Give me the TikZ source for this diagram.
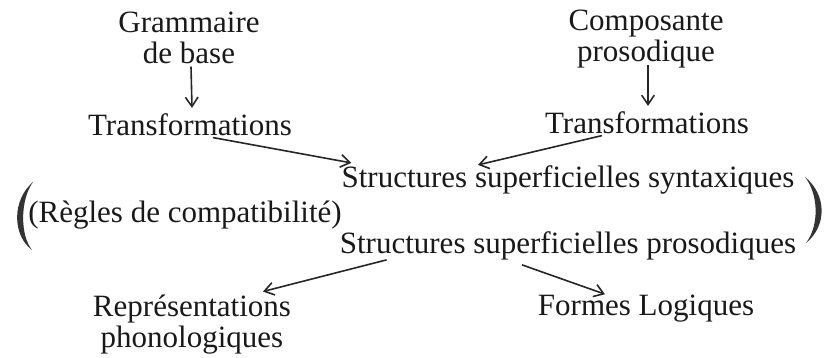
\documentclass[tikz,border=0pt]{standalone}
\usepackage{fontspec}
\setmainfont{Liberation Serif}
\usetikzlibrary{calc,positioning,arrows.meta}
\tikzset{
    lbl/.style={inner sep=3.75pt, align=center, text=black!90, font=\fontsize{23.25}{23}\selectfont},
    arr/.style={-{Straight Barb[length=7pt,width=9.5pt]}, line width=1.2pt, draw=black!85},
    paren/.style={fill=black!80, draw=none}
}

\begin{document}
\begin{tikzpicture}[x=0.75pt,y=0.75pt,yscale=-1,xscale=1]
\useasboundingbox (0,0) rectangle (827,357);
%Text
\node[lbl, anchor=base] (gram) at (189,63) {Grammaire\\de base};
\node[lbl, anchor=base] (comp) at (646,61) {Composante\\prosodique};
\node[lbl, anchor=base] (tleft) at (190,135) {Transformations};
\node[lbl, anchor=base] (tright) at (647,133) {Transformations};
\node[lbl, anchor=base] (synt) at (568,187) {Structures superficielles syntaxiques};
\node[lbl, anchor=base] (regles) at (185,222) {(Règles de compatibilité)};
\node[lbl, anchor=base] (pros) at (568,253) {Structures superficielles prosodiques};
\node[lbl, anchor=base] (repr) at (192,347) {Représentations\\phonologiques};
\node[lbl, anchor=base] (formes) at (646,315) {Formes Logiques};
%Straight Lines
\draw[arr] ($(gram.south)+(2,-2)$) -- ($(tleft.north)+(2,0)$);
\draw[arr] ($(comp.south)+(2,-8)$) -- ($(tright.north)+(1,0)$);
\draw[arr] ($(tleft.south)+(23,-3)$) -- ($(synt.north west)+(15,3)$);
\draw[arr] ($(tright.south)+(-45,-3)$) -- ($(synt.north)+(-90,5)$);
\draw[arr] ($(pros.south west)+(52,-5)$) -- ($(repr.north)+(71,2)$);
\draw[arr] ($(pros.south)+(-46,0)$) -- ($(formes.north)+(-41,5)$);
%Curve Lines
\fill[paren] (33,182) .. controls (12,200) and (12,235) .. (32,250) .. controls (20,235) and (20,200) .. (33,182) -- cycle;
\fill[paren] (805,177) .. controls (827,195) and (827,226) .. (806,243) .. controls (819,226) and (819,195) .. (805,177) -- cycle;
\end{tikzpicture}
\end{document}
